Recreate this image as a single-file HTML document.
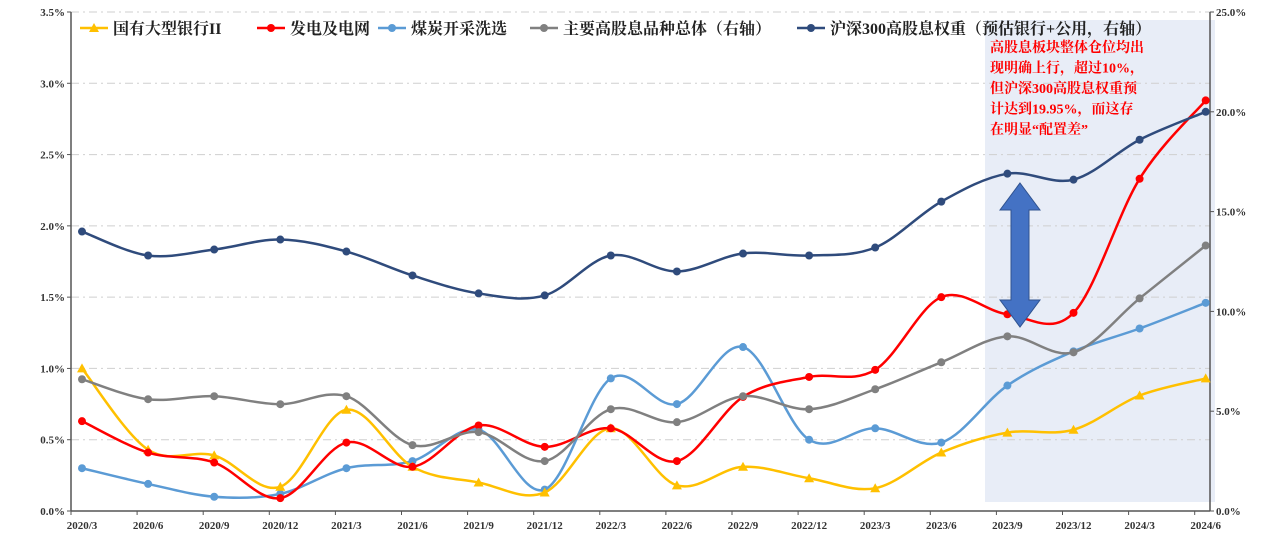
<!DOCTYPE html>
<html><head><meta charset="utf-8">
<style>
html,body{margin:0;padding:0;background:#fff;width:1266px;height:537px;overflow:hidden}
svg{display:block}
text{font-family:"Liberation Serif","Noto Serif CJK SC",serif}
</style></head>
<body>
<svg id="chart" width="1266" height="537" xmlns="http://www.w3.org/2000/svg"></svg>
<script>
const categories=["2020/3","2020/6","2020/9","2020/12","2021/3","2021/6","2021/9","2021/12","2022/3","2022/6","2022/9","2022/12","2023/3","2023/6","2023/9","2023/12","2024/3","2024/6"];
const bankValues=[1.00,0.43,0.39,0.17,0.71,0.31,0.20,0.13,0.58,0.18,0.31,0.23,0.16,0.41,0.55,0.57,0.81,0.93];
const powerValues=[0.63,0.41,0.34,0.09,0.48,0.31,0.60,0.45,0.58,0.35,0.80,0.94,0.99,1.50,1.38,1.39,2.33,2.88];
const coalValues=[0.30,0.19,0.10,0.12,0.30,0.35,0.57,0.15,0.93,0.75,1.15,0.50,0.58,0.48,0.88,1.12,1.28,1.46];
const totalValues=[6.6,5.6,5.75,5.35,5.75,3.3,3.95,2.5,5.1,4.45,5.75,5.1,6.1,7.45,8.75,7.95,10.65,13.3];
const hs300Values=[14.0,12.8,13.1,13.6,13.0,11.8,10.9,10.8,12.8,12.0,12.9,12.8,13.2,15.5,16.9,16.6,18.6,20.0];
const leftTicks=["0.0%","0.5%","1.0%","1.5%","2.0%","2.5%","3.0%","3.5%"];
const rightTicks=["0.0%","5.0%","10.0%","15.0%","20.0%","25.0%"];

const NS="http://www.w3.org/2000/svg";
const svg=document.getElementById('chart');
const X0=71,STEP=66.1,Y0=511,Y1=12;
function xPos(i){return X0+11+i*STEP;}
function yL(v){return Y0-(v/3.5)*(Y0-Y1);}
function yR(v){return Y0-(v/25)*(Y0-Y1);}
function el(tag,attrs,parent){const e=document.createElementNS(NS,tag);for(const k in attrs)e.setAttribute(k,attrs[k]);(parent||svg).appendChild(e);return e;}

const sh=el('rect',{x:985,y:20,width:230,height:482,fill:'#e8edf7'});



leftTicks.forEach((t,i)=>{
  const v=i*0.5,y=yL(v);
  if(i>0){const g=el('line',{x1:X0,x2:1210,y1:y,y2:y,stroke:'#cfcfcf','stroke-dasharray':'8 4 2 4','stroke-width':1});
  
  }
  el('line',{x1:X0-4,x2:X0,y1:y,y2:y,stroke:'#555'});
  const tx=el('text',{x:X0-6,y:y+4,'text-anchor':'end','font-size':11,'font-weight':'bold',fill:'#333'});
  tx.textContent=t;
  
  
});
rightTicks.forEach((t,i)=>{
  const y=yR(i*5);
  el('line',{x1:1210,x2:1214,y1:y,y2:y,stroke:'#555'});
  const tx=el('text',{x:1216,y:y+4,'font-size':11,'font-weight':'bold',fill:'#333'});
  tx.textContent=t;
  
  
});
const la=el('line',{x1:X0,x2:X0,y1:Y1,y2:Y0,stroke:'#555','stroke-width':1.5});


const ra=el('line',{x1:1210,x2:1210,y1:Y1,y2:Y0,stroke:'#555','stroke-width':1.5});


const xa=el('line',{x1:X0,x2:1210,y1:Y0,y2:Y0,stroke:'#555','stroke-width':1.5});


categories.forEach((c,i)=>{
  const tx0=X0+i*STEP;
  el('line',{x1:tx0,x2:tx0,y1:Y0,y2:Y0+4,stroke:'#555'});
  const tx=el('text',{x:xPos(i),y:529,'text-anchor':'middle','font-size':11,'font-weight':'bold',fill:'#333'});
  tx.textContent=c;
  
  
});

function smoothPath(pts){
  let d=`M${pts[0][0]},${pts[0][1]}`;
  for(let i=0;i<pts.length-1;i++){
    const p0=pts[i-1]||pts[i],p1=pts[i],p2=pts[i+1],p3=pts[i+2]||p2;
    const c1=[p1[0]+(p2[0]-p0[0])/6,p1[1]+(p2[1]-p0[1])/6];
    const c2=[p2[0]-(p3[0]-p1[0])/6,p2[1]-(p3[1]-p1[1])/6];
    d+=` C${c1[0]},${c1[1]} ${c2[0]},${c2[1]} ${p2[0]},${p2[1]}`;
  }
  return d;
}
function series(vals,yf,color,name,tri){
  const pts=vals.map((v,i)=>[xPos(i),yf(v)]);
  const g=el('g',{});
  
  
  el('path',{d:smoothPath(pts),fill:'none',stroke:color,'stroke-width':2.5},g);
  pts.forEach(p=>{
    let m;
    if(tri) m=el('polygon',{points:`${p[0]},${p[1]-5} ${p[0]-5},${p[1]+4} ${p[0]+5},${p[1]+4}`,fill:color},g);
    else m=el('circle',{cx:p[0],cy:p[1],r:4,fill:color},g);
    
    
  });
}
series(coalValues,yL,'#5b9bd5','series-coal',false);
series(bankValues,yL,'#ffc000','series-banks',true);
series(powerValues,yL,'#ff0000','series-power',false);
series(totalValues,yR,'#808080','series-total-dividend',false);
series(hs300Values,yR,'#2f4b7c','series-hs300-dividend',false);

const ar=el('polygon',{points:'1020,183 1040,210 1029,210 1029,300 1040,300 1020,327 1000,300 1011,300 1011,210 1000,210',fill:'#4472c4',stroke:'#2f528f','stroke-width':1});



const legend=[["国有大型银行II",'#ffc000',true],["发电及电网",'#ff0000',false],["煤炭开采洗选",'#5b9bd5',false],["主要高股息品种总体（右轴）",'#808080',false],["沪深300高股息权重（预估银行+公用，右轴）",'#2f4b7c',false]];
const lx=[80,257,378,530,797];
legend.forEach((l,i)=>{
  const g=el('g',{});
  
  
  const x=lx[i],y=28;
  el('line',{x1:x,x2:x+28,y1:y,y2:y,stroke:l[1],'stroke-width':2.5},g);
  if(l[2]) el('polygon',{points:`${x+14},${y-5} ${x+9},${y+4} ${x+19},${y+4}`,fill:l[1]},g);
  else el('circle',{cx:x+14,cy:y,r:4,fill:l[1]},g);
  const t=el('text',{x:x+33,y:y+6,'font-size':16,'font-weight':'bold',fill:'#222'},g);
  t.textContent=l[0];
});

const ann=["高股息板块整体仓位均出","现明确上行，超过10%，","但沪深300高股息权重预","计达到19.95%，而这存","在明显“配置差”"];
const ag=el('g',{});


ann.forEach((s,i)=>{
  const t=el('text',{x:990,y:52+i*20.5,'font-size':14,'font-weight':'bold',fill:'#ff0000'},ag);
  t.textContent=s;
});
</script>
</body></html>
